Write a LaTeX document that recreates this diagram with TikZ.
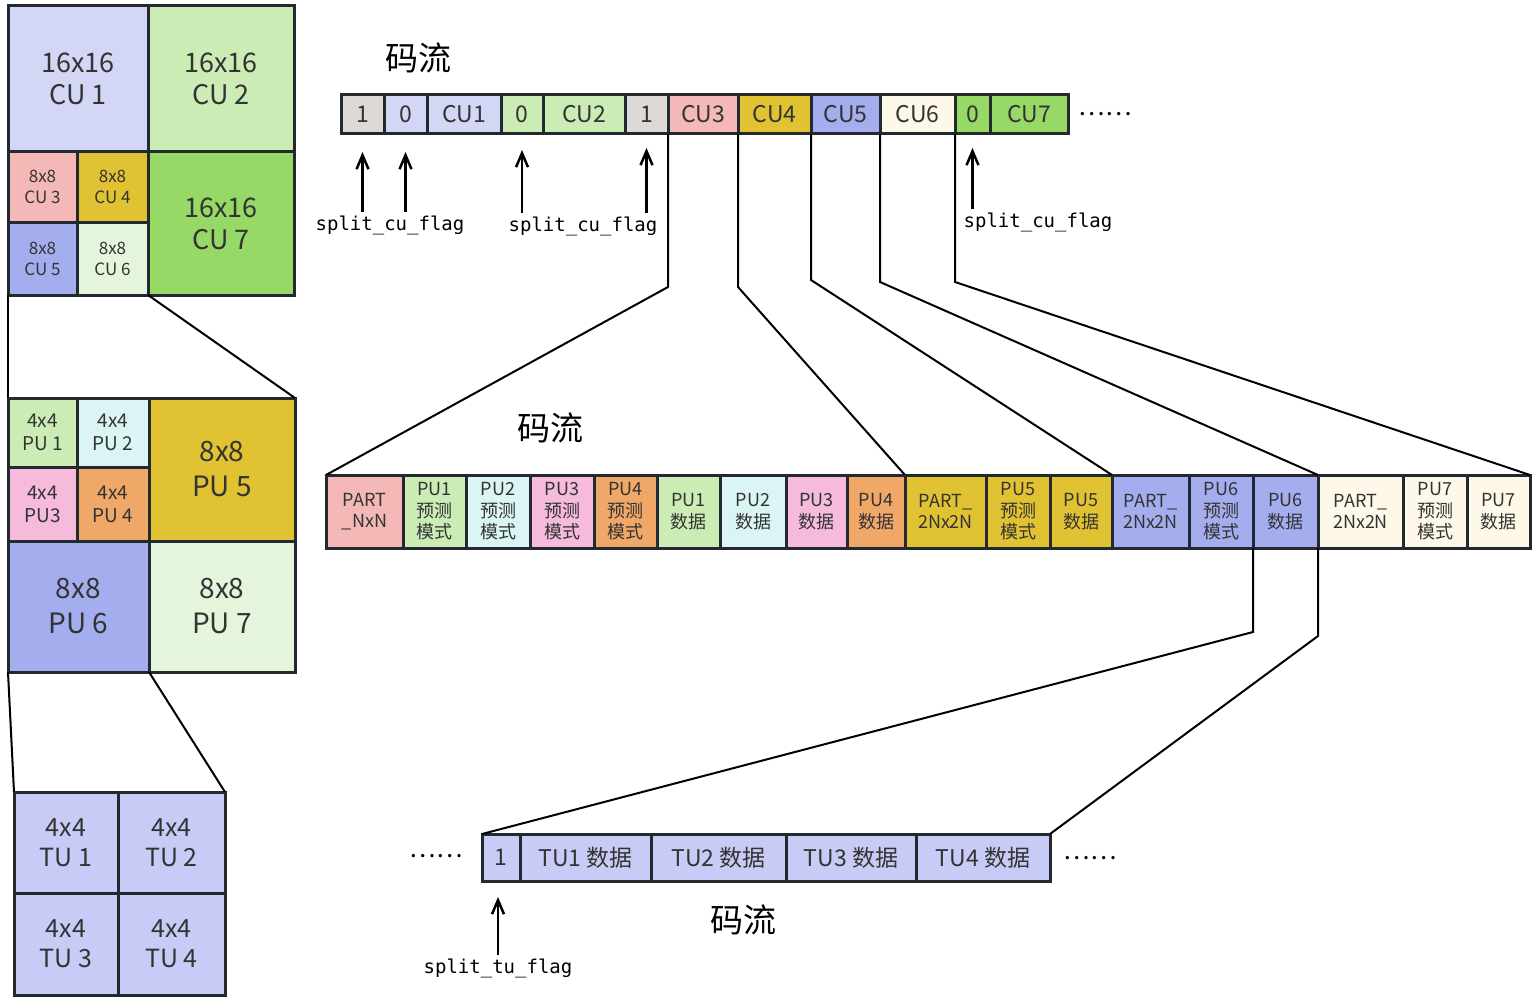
\documentclass[tikz,border=0pt]{standalone}
\usepackage{fontspec}
\setmainfont{Noto Sans CJK SC}
\setmonofont{DejaVu Sans Mono}
\usetikzlibrary{arrows.meta}
\usetikzlibrary{positioning}
\definecolor{mline}{HTML}{222A30}
\definecolor{mtext}{HTML}{333333}
\definecolor{mgray}{HTML}{DDD9D6}
\definecolor{mlav}{HTML}{D3D6F5}
\definecolor{mlgreen}{HTML}{CBEDB5}
\definecolor{msalmon}{HTML}{F4B9B6}
\definecolor{mgold}{HTML}{E0C232}
\definecolor{mperi}{HTML}{A4ADEE}
\definecolor{mpale}{HTML}{E5F5DC}
\definecolor{mgreen}{HTML}{97D966}
\definecolor{mcyan}{HTML}{DBF5F5}
\definecolor{mpink}{HTML}{F5BADC}
\definecolor{morange}{HTML}{F0A868}
\definecolor{mcream}{HTML}{FDF8E8}
\definecolor{mtu}{HTML}{C8CBF5}
\tikzset{cell/.style = {draw=mline, line width=3, inner sep=0, outer sep=0,
                        align=center, text=mtext}}
\tikzset{link/.style = {line width=2}}
\tikzset{flag/.style = {line width=2.5, -{Straight Barb[length=14pt, width=12pt]}}}
\tikzset{cubig/.style = {font=\fontsize{27}{32}\selectfont}}
\tikzset{cusmall/.style = {font=\fontsize{17}{21}\selectfont}}
\tikzset{pusmall/.style = {font=\fontsize{19}{23}\selectfont}}
\tikzset{pubig/.style = {font=\fontsize{28}{35}\selectfont}}
\tikzset{tufont/.style = {font=\fontsize{25}{30}\selectfont}}
\tikzset{bitfont/.style = {font=\fontsize{23}{26}\selectfont}}
\tikzset{pufont/.style = {font=\fontsize{18}{21.5}\selectfont}}
\tikzset{title/.style = {font=\fontsize{33}{36}\selectfont}}
\tikzset{flagfont/.style = {font=\fontsize{19}{21}\ttfamily}}
\tikzset{dotsfont/.style = {font=\fontsize{25}{26}\selectfont}}

\begin{document}
\begin{tikzpicture}[x=1pt, y=-1pt]
    \useasboundingbox (0, 0) rectangle (1536, 1003);

    % CU partition
    \node [cell, cubig, fill=mlav, anchor=north west, minimum width=140, minimum height=146] (c1) at (8, 6) {16x16\\CU 1};
    \node [cell, cubig, fill=mlgreen, anchor=north west, minimum width=146, minimum height=146] (c2) at (148, 6) {16x16\\CU 2};
    \node [cell, cusmall, fill=msalmon, anchor=north west, minimum width=69, minimum height=70] (c3) at (8, 152) {8x8\\CU 3};
    \node [cell, cusmall, fill=mgold, anchor=north west, minimum width=71, minimum height=70] (c4) at (77, 152) {8x8\\CU 4};
    \node [cell, cusmall, fill=mperi, anchor=north west, minimum width=69, minimum height=73] (c5) at (8, 222) {8x8\\CU 5};
    \node [cell, cusmall, fill=mpale, anchor=north west, minimum width=71, minimum height=73] (c6) at (77, 222) {8x8\\CU 6};
    \node [cell, cubig, fill=mgreen, anchor=north west, minimum width=146, minimum height=143] (c7) at (148, 152) {16x16\\CU 7};

    % PU partition
    \node [cell, pusmall, fill=mlgreen, anchor=north west, minimum width=69, minimum height=69] (p1) at (8, 398) {4x4\\PU 1};
    \node [cell, pusmall, fill=mcyan, anchor=north west, minimum width=72, minimum height=69] (p2) at (77, 398) {4x4\\PU 2};
    \node [cell, pusmall, fill=mpink, anchor=north west, minimum width=69, minimum height=74] (p3) at (8, 467) {4x4\\PU3};
    \node [cell, pusmall, fill=morange, anchor=north west, minimum width=72, minimum height=74] (p4) at (77, 467) {4x4\\PU 4};
    \node [cell, pubig, fill=mgold, anchor=north west, minimum width=146, minimum height=143] (p5) at (149, 398) {8x8\\PU 5};
    \node [cell, pubig, fill=mperi, anchor=north west, minimum width=141, minimum height=131] (p6) at (8, 541) {8x8\\PU 6};
    \node [cell, pubig, fill=mpale, anchor=north west, minimum width=146, minimum height=131] (p7) at (149, 541) {8x8\\PU 7};

    % TU partition
    \node [cell, tufont, fill=mtu, anchor=north west, minimum width=104, minimum height=101] (t1) at (14, 792) {4x4\\TU 1};
    \node [cell, tufont, fill=mtu, anchor=north west, minimum width=107, minimum height=101] (t2) at (118, 792) {4x4\\TU 2};
    \node [cell, tufont, fill=mtu, anchor=north west, minimum width=104, minimum height=102] (t3) at (14, 893) {4x4\\TU 3};
    \node [cell, tufont, fill=mtu, anchor=north west, minimum width=107, minimum height=102] (t4) at (118, 893) {4x4\\TU 4};

    \draw [link] (c5.south west) -- (p1.north west);
    \draw [link] (c6.south east) -- (p5.north east);
    \draw [link] (p6.south west) -- (t1.north west);
    \draw [link] (p7.south west) -- (t2.north east);

    % CU bitstream
    \node [title] (title1) at (418, 58) {码流};
    \node [cell, bitfont, fill=mgray, anchor=north west, minimum width=43, minimum height=39] (s1) at (341, 95) {1};
    \node [cell, bitfont, fill=mlav, minimum width=43, minimum height=39, right=0pt of s1] (s2) {0};
    \node [cell, bitfont, fill=mlav, minimum width=74, minimum height=39, right=0pt of s2] (s3) {CU1};
    \node [cell, bitfont, fill=mlgreen, minimum width=42, minimum height=39, right=0pt of s3] (s4) {0};
    \node [cell, bitfont, fill=mlgreen, minimum width=82, minimum height=39, right=0pt of s4] (s5) {CU2};
    \node [cell, bitfont, fill=mgray, minimum width=43, minimum height=39, right=0pt of s5] (s6) {1};
    \node [cell, bitfont, fill=msalmon, minimum width=70, minimum height=39, right=0pt of s6] (s7) {CU3};
    \node [cell, bitfont, fill=mgold, minimum width=73, minimum height=39, right=0pt of s7] (s8) {CU4};
    \node [cell, bitfont, fill=mperi, minimum width=69, minimum height=39, right=0pt of s8] (s9) {CU5};
    \node [cell, bitfont, fill=mcream, minimum width=75, minimum height=39, right=0pt of s9] (s10) {CU6};
    \node [cell, bitfont, fill=mgreen, minimum width=35, minimum height=39, right=0pt of s10] (s11) {0};
    \node [cell, bitfont, fill=mgreen, minimum width=78, minimum height=39, right=0pt of s11] (s12) {CU7};
    \node [dotsfont] (dots1) at (1105, 114) {……};

    \node [flagfont] (flag1) at (390, 225) {split\_cu\_flag};
    \node [flagfont] (flag2) at (583, 226) {split\_cu\_flag};
    \node [flagfont] (flag3) at (1038, 222) {split\_cu\_flag};
    \draw [flag] (s1.south |- flag1.north) -- ([yshift=-18pt]s1.south);
    \draw [flag] (s2.south |- flag1.north) -- ([yshift=-18pt]s2.south);
    \draw [flag] (s4.south |- flag2.north) -- ([yshift=-16pt]s4.south);
    \draw [flag] (s6.south |- flag2.north) -- ([yshift=-14pt]s6.south);
    \draw [flag] (s11.south |- flag3.north) -- ([yshift=-14pt]s11.south);

    % PU bitstream
    \node [title] (title2) at (550, 428) {码流};
    \node [cell, pufont, fill=msalmon, anchor=north west, minimum width=77, minimum height=73] (m1) at (326, 475) {PART\\\_NxN};
    \node [cell, pufont, fill=mlgreen, minimum width=63, minimum height=73, right=0pt of m1] (m2) {PU1\\预测\\模式};
    \node [cell, pufont, fill=mcyan, minimum width=64, minimum height=73, right=0pt of m2] (m3) {PU2\\预测\\模式};
    \node [cell, pufont, fill=mpink, minimum width=64, minimum height=73, right=0pt of m3] (m4) {PU3\\预测\\模式};
    \node [cell, pufont, fill=morange, minimum width=63, minimum height=73, right=0pt of m4] (m5) {PU4\\预测\\模式};
    \node [cell, pufont, fill=mlgreen, minimum width=63, minimum height=73, right=0pt of m5] (m6) {PU1\\数据};
    \node [cell, pufont, fill=mcyan, minimum width=66, minimum height=73, right=0pt of m6] (m7) {PU2\\数据};
    \node [cell, pufont, fill=mpink, minimum width=61, minimum height=73, right=0pt of m7] (m8) {PU3\\数据};
    \node [cell, pufont, fill=morange, minimum width=58, minimum height=73, right=0pt of m8] (m9) {PU4\\数据};
    \node [cell, pufont, fill=mgold, minimum width=81, minimum height=73, right=0pt of m9] (m10) {PART\_\\2Nx2N};
    \node [cell, pufont, fill=mgold, minimum width=64, minimum height=73, right=0pt of m10] (m11) {PU5\\预测\\模式};
    \node [cell, pufont, fill=mgold, minimum width=62, minimum height=73, right=0pt of m11] (m12) {PU5\\数据};
    \node [cell, pufont, fill=mperi, minimum width=77, minimum height=73, right=0pt of m12] (m13) {PART\_\\2Nx2N};
    \node [cell, pufont, fill=mperi, minimum width=64, minimum height=73, right=0pt of m13] (m14) {PU6\\预测\\模式};
    \node [cell, pufont, fill=mperi, minimum width=65, minimum height=73, right=0pt of m14] (m15) {PU6\\数据};
    \node [cell, pufont, fill=mcream, minimum width=85, minimum height=73, right=0pt of m15] (m16) {PART\_\\2Nx2N};
    \node [cell, pufont, fill=mcream, minimum width=64, minimum height=73, right=0pt of m16] (m17) {PU7\\预测\\模式};
    \node [cell, pufont, fill=mcream, minimum width=63, minimum height=73, right=0pt of m17] (m18) {PU7\\数据};

    \draw [link] (s7.south west) -- ++(0, 153) -- (m1.north west);
    \draw [link] (s8.south west) -- ++(0, 153) -- (m10.north west);
    \draw [link] (s9.south west) -- ++(0, 146) -- (m13.north west);
    \draw [link] (s10.south west) -- ++(0, 148) -- (m16.north west);
    \draw [link] (s11.south west) -- ++(0, 148) -- (m18.north east);

    % TU bitstream
    \node [cell, bitfont, fill=mtu, anchor=north west, minimum width=38, minimum height=47] (b1) at (482, 834) {1};
    \node [cell, bitfont, fill=mtu, minimum width=131, minimum height=47, right=0pt of b1] (b2) {TU1 数据};
    \node [cell, bitfont, fill=mtu, minimum width=135, minimum height=47, right=0pt of b2] (b3) {TU2 数据};
    \node [cell, bitfont, fill=mtu, minimum width=130, minimum height=47, right=0pt of b3] (b4) {TU3 数据};
    \node [cell, bitfont, fill=mtu, minimum width=134, minimum height=47, right=0pt of b4] (b5) {TU4 数据};
    \node [dotsfont] (dots2) at (436, 856) {……};
    \node [dotsfont] (dots3) at (1090, 858) {……};
    \node [title] (title3) at (743, 920) {码流};

    \node [flagfont] (flag4) at (498, 968) {split\_tu\_flag};
    \draw [flag] ([xshift=-3pt]b1.south |- flag4.north) -- ([xshift=-3pt, yshift=-16pt]b1.south);

    \draw [link] (m15.south west) -- ++(0, 84) -- (b1.north west);
    \draw [link] (m15.south east) -- ++(0, 88) -- (b5.north east);
\end{tikzpicture}
\end{document}
